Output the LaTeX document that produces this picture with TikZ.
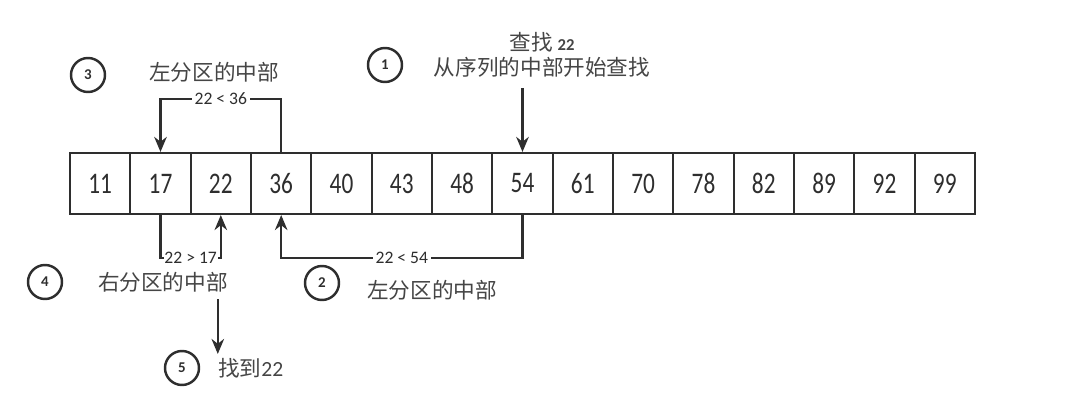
\documentclass[tikz,border=0pt]{standalone}
\usepackage{fontspec}
\usepackage{graphicx}
\setmainfont{Carlito}
\newfontfamily\cjk{Noto Sans CJK SC}
\usetikzlibrary{arrows.meta,positioning,calc}
\definecolor{inkgray}{HTML}{2E2E2E}
\definecolor{textgray}{HTML}{454545}
\newcommand{\cellnum}[1]{\scalebox{0.78}[1]{\fontsize{17}{17}\selectfont #1}}
\tikzset{
  >={Stealth[length=3mm,width=2.5mm]},
  % feld
  cell/.style={draw=inkgray,line width=1.2pt,minimum width=1.207cm,
               minimum height=1.22cm,inner sep=0pt,text=inkgray},
  % pilar
  arr/.style={->,draw=inkgray,line width=1.4pt},
  lbl/.style={fill=white,inner sep=1.5pt,font=\fontsize{10}{10}\selectfont,text=inkgray},
  % steg
  stepno/.style={circle,draw=inkgray,line width=1.4pt,minimum size=0.68cm,inner sep=0pt,
                 font=\fontsize{8.5}{8.5}\selectfont\bfseries,text=inkgray},
  note/.style={font=\cjk\fontsize{12.3}{14}\selectfont,text=textgray,inner sep=1pt,align=center},
}
\begin{document}
\begin{tikzpicture}[x=0.02cm,y=-0.02cm]
  \useasboundingbox (0,0) rectangle (1080,415);
  % sekvensen
  \node[cell] (c11) at (100.2,183.5) {\cellnum{11}};
  \node[cell] (c17) at (160.5,183.5) {\cellnum{17}};
  \node[cell] (c22) at (220.8,183.5) {\cellnum{22}};
  \node[cell] (c36) at (281.2,183.5) {\cellnum{36}};
  \node[cell] (c40) at (341.5,183.5) {\cellnum{40}};
  \node[cell] (c43) at (401.8,183.5) {\cellnum{43}};
  \node[cell] (c48) at (462.2,183.5) {\cellnum{48}};
  \node[cell] (c54) at (522.5,183.5) {\cellnum{54}};
  \node[cell] (c61) at (582.8,183.5) {\cellnum{61}};
  \node[cell] (c70) at (643.2,183.5) {\cellnum{70}};
  \node[cell] (c78) at (703.5,183.5) {\cellnum{78}};
  \node[cell] (c82) at (763.8,183.5) {\cellnum{82}};
  \node[cell] (c89) at (824.2,183.5) {\cellnum{89}};
  \node[cell] (c92) at (884.5,183.5) {\cellnum{92}};
  \node[cell] (c99) at (944.8,183.5) {\cellnum{99}};
  % steg 1
  \node[stepno] (s1) at (385,65) {1};
  \node[note] (t1) at (542,55) {查找 {\rmfamily\bfseries\fontsize{9.5}{10}\selectfont 22}\\从序列的中部开始查找};
  \draw[arr] (c54.north |- 0,88) coordinate (a1) -- (c54.north);
  % steg 2
  \node[stepno] (s2) at (322,283) {2};
  \node[note] (t2) at (432,290) {左分区的中部};
  \draw[arr] (c54.south) -- ++(0,43) -| node[lbl,pos=0.25]{22 < 54} (c36.south);
  % steg 3
  \node[stepno] (s3) at (88,75) {3};
  \node[note] (t3) at (214,72) {左分区的中部};
  \draw[arr] (c36.north) -- ++(0,-53) -| node[lbl,pos=0.25]{22 < 36} (c17.north);
  % steg 4
  \node[stepno] (s4) at (45,282) {4};
  \node[note] (t4) at (163,282) {右分区的中部};
  \draw[arr] (c17.south) -- ++(0,43) -| node[lbl,pos=0.25,inner sep=0.5pt]{22 > 17} (c22.south);
  % steg 5
  \node[stepno] (s5) at (182,368) {5};
  \node[note,anchor=west] (t5) at (216,368) {找到{\rmfamily 22}};
  \draw[arr] ($(t4.south -| c22.south)+(-3,5)$) -- ($(t5.north -| c22.south)+(-3,-2)$);
\end{tikzpicture}
\end{document}
